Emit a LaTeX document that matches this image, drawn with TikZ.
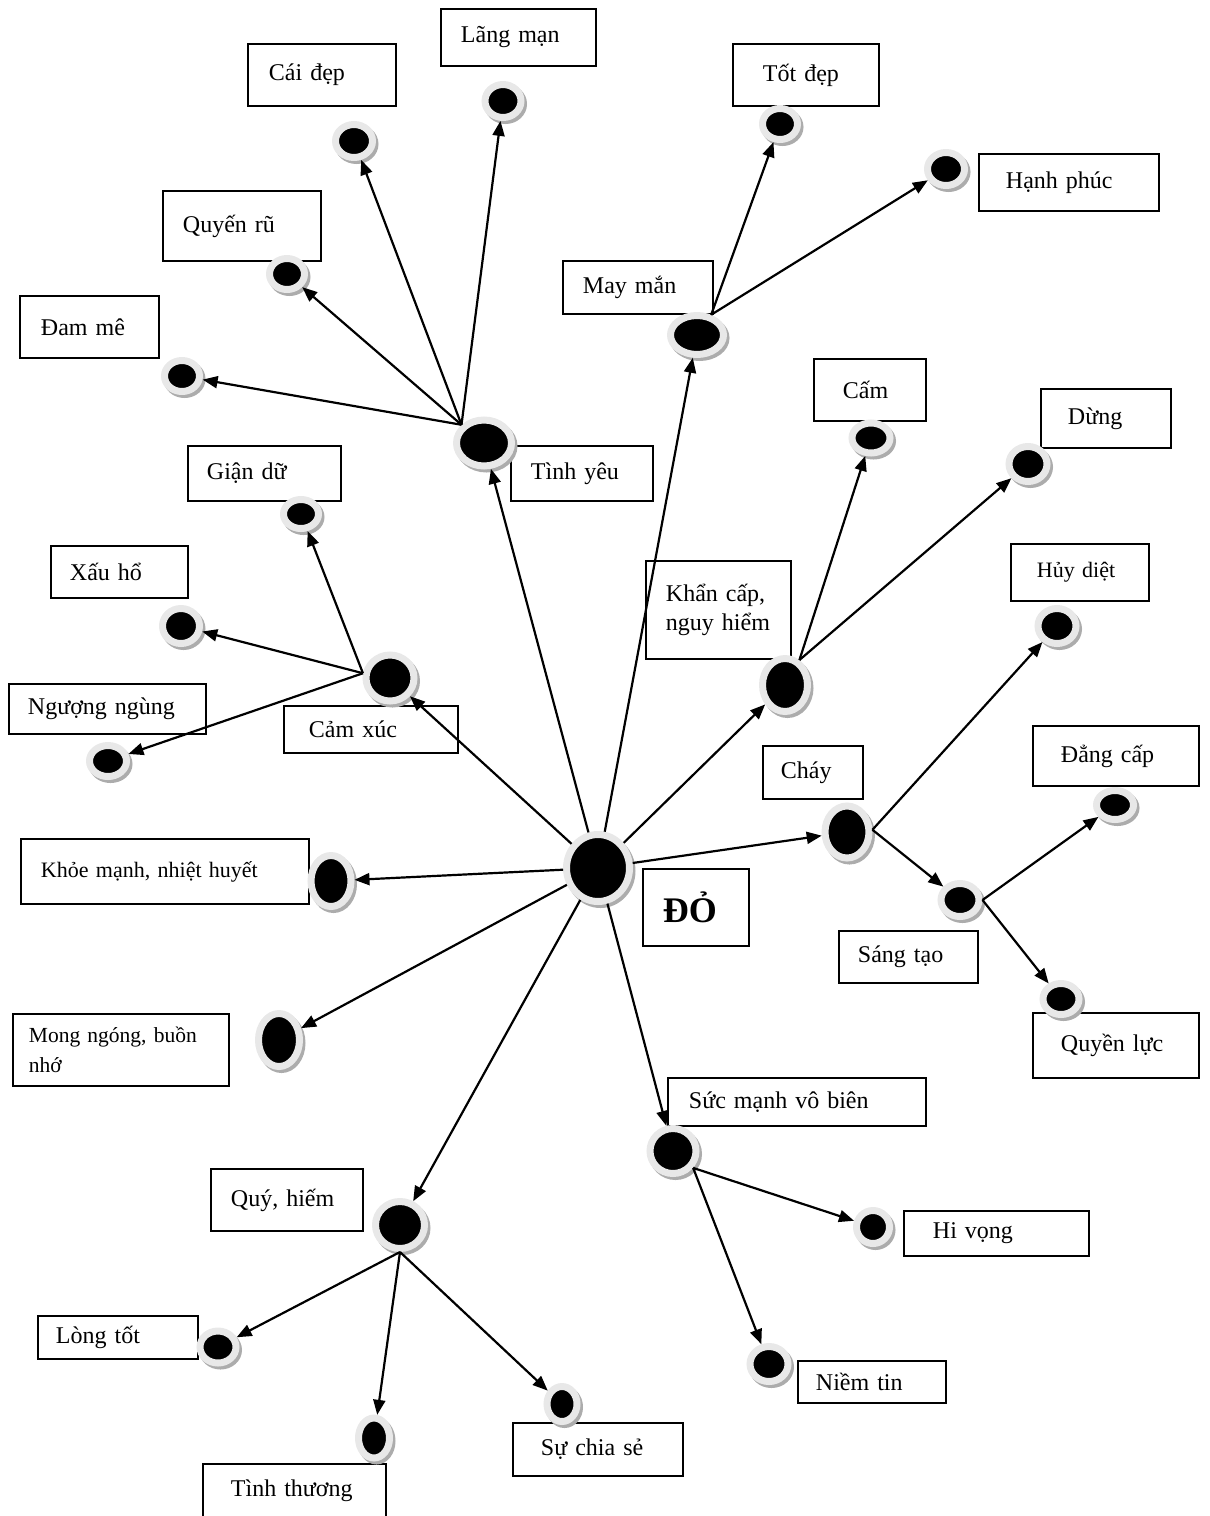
\documentclass[tikz,border=0pt]{standalone}
\usepackage{fontspec}
\setmainfont{Liberation Serif}
\usetikzlibrary{positioning,arrows.meta,shapes.geometric,shadows}

\begin{document}
\begin{tikzpicture}[
      x=1pt, y=-1pt,
      font=\fontsize{24}{29}\selectfont,
      box/.style={
        draw, line width=1.9pt, anchor=north west,
        align=left, inner xsep=20pt, inner ysep=0pt,
      },
      blob/.style 2 args={
        ellipse, fill=black, draw=gray!18, line width=7pt,
        minimum width=#1, minimum height=#2, inner sep=0pt,
        drop shadow={shadow xshift=2.5pt, shadow yshift=-3pt,
          opacity=1, fill=gray!65, draw=gray!65},
      },
      link/.style={-{Triangle[length=15pt,width=12pt]}, line width=2.2pt},
    ]
    \useasboundingbox (0,0) rectangle (1210,1516);

    % Label boxes, top row first
    \node[box, text width=115pt, minimum height=57pt] (lm) at (440,8) {Lãng mạn};
    \node[box, inner xsep=21pt, text width=106pt, minimum height=62pt] (cd) at (247,43) {Cái đẹp};
    \node[box, inner xsep=30pt, text width=86pt, minimum height=62pt] (td) at (732,43) {Tốt đẹp};
    \node[box, inner xsep=27pt, text width=126pt, minimum height=57pt] (hp) at (978,153) {Hạnh phúc};
    \node[box, text width=118pt, minimum height=70pt] (qr) at (162,190) {Quyến rũ};
    \node[box, text width=110pt, minimum height=53pt] (mm) at (562,260) {May mắn};
    \node[box, inner xsep=21pt, text width=97pt, minimum height=62pt] (dm) at (19,295) {Đam mê};
    \node[box, inner xsep=29pt, text width=54pt, minimum height=62pt] (cam) at (813,358) {Cấm};
    \node[box, inner xsep=27pt, text width=76pt, minimum height=59pt] (dung) at (1040,388) {Dừng};
    \node[box, text width=102pt, minimum height=55pt] (ty) at (510,445) {Tình yêu};
    \node[box, inner xsep=19pt, text width=115pt, minimum height=55pt] (gd) at (187,445) {Giận dữ};
    \node[box, inner xsep=19pt, text width=99pt, minimum height=52pt] (xh) at (50,545) {Xấu hổ};
    \node[box, text width=105pt, minimum height=98pt] (kc) at (645,560) {\mbox{Khẩn cấp,}\\\mbox{nguy hiểm}};
    \node[box, inner xsep=26pt, text width=86pt, minimum height=57pt, font=\fontsize{22}{27}\selectfont] (hd) at (1010,543) {\mbox{Hủy diệt}};
    \node[box, inner xsep=19pt, text width=159pt, minimum height=50pt] (nn) at (8,683) {Ngượng ngùng};
    \node[box, inner xsep=25pt, text width=124pt, minimum height=47pt] (cx) at (283,705) {Cảm xúc};
    \node[box, inner xsep=18pt, text width=64pt, minimum height=53pt] (ch) at (762,745) {Cháy};
    \node[box, inner xsep=28pt, text width=110pt, minimum height=60pt] (dc) at (1032,725) {Đẳng cấp};
    \node[box, text width=248pt, minimum height=65pt, font=\fontsize{22}{27}\selectfont] (km) at (20,838) {Khỏe mạnh, nhiệt huyết};
    \node[box, text width=66pt, minimum height=77pt, font=\fontsize{36}{40}\selectfont\bfseries] (do) at (642,868) {ĐỎ};
    \node[box, inner xsep=19pt, text width=101pt, minimum height=52pt] (st) at (838,930) {Sáng tạo};
    \node[box, inner xsep=16pt, text width=184pt, minimum height=72pt, font=\fontsize{21.5}{30}\selectfont] (mg) at (12,1013) {\mbox{Mong ngóng, buồn}\\nhớ};
    \node[box, inner xsep=28pt, text width=110pt, minimum height=65pt] (ql) at (1032,1012) {Quyền lực};
    \node[box, inner xsep=21pt, text width=216pt, minimum height=48pt] (sm) at (667,1077) {Sức mạnh vô biên};
    \node[box, text width=112pt, minimum height=62pt] (qh) at (210,1168) {Quý, hiếm};
    \node[box, inner xsep=29pt, text width=127pt, minimum height=45pt] (hv) at (903,1210) {Hi vọng};
    \node[box, inner xsep=18pt, text width=124pt, minimum height=43pt] (lt) at (37,1315) {Lòng tốt};
    \node[box, inner xsep=18pt, text width=112pt, minimum height=42pt] (nt) at (797,1360) {Niềm tin};
    \node[box, inner xsep=28pt, text width=114pt, minimum height=53pt] (sc) at (512,1422) {Sự chia sẻ};
    \node[box, inner xsep=28pt, text width=127pt, minimum height=53pt] (tt) at (202,1463) {Tình thương};

    % Hub dots
    \node[blob={63}{67}] (ctrDot) at (598,868) {};
    \node[blob={55}{46}] (tyDot) at (484,443) {};
    \node[blob={53}{39}] (mmDot) at (697,335) {};
    \node[blob={48}{46}] (cxDot) at (390,678) {};
    \node[blob={45}{53}] (kcDot) at (785,685) {};
    \node[blob={44}{52}] (chDot) at (847,832) {};
    \node[blob={38}{33}] (stDot) at (960,900) {};
    \node[blob={40}{51}] (kmDot) at (331,881) {};
    \node[blob={41}{53}] (mgDot) at (279,1040) {};
    \node[blob={46}{45}] (smDot) at (673,1151) {};
    \node[blob={49}{47}] (qhDot) at (400,1225) {};

    % Leaf dots
    \node[blob={36}{33}] (lmDot) at (503,101) {};
    \node[blob={37}{33}] (cdDot) at (354,141) {};
    \node[blob={35}{31}] (qrDot) at (287,274) {};
    \node[blob={35}{31}] (dmDot) at (182,376) {};
    \node[blob={35}{31}] (tdDot) at (780,124) {};
    \node[blob={37}{33}] (hpDot) at (946,169) {};
    \node[blob={38}{30}] (camDot) at (871,438) {};
    \node[blob={38}{35}] (dungDot) at (1028,464) {};
    \node[blob={35}{29}] (gdDot) at (301,514) {};
    \node[blob={37}{35}] (xhDot) at (181,626) {};
    \node[blob={37}{31}] (nnDot) at (108,761) {};
    \node[blob={38}{35}] (hdDot) at (1057,626) {};
    \node[blob={37}{29}] (dcDot) at (1115,805) {};
    \node[blob={36}{31}] (qlDot) at (1061,999) {};
    \node[blob={33}{33}] (hvDot) at (873,1227) {};
    \node[blob={38}{35}] (ntDot) at (769,1364) {};
    \node[blob={36}{32}] (ltDot) at (218,1347) {};
    \node[blob={31}{40}] (ttDot) at (374,1438) {};
    \node[blob={30}{35}] (scDot) at (562,1404) {};

    % From the centre
    \draw[link] (ctrDot) -- (tyDot);
    \draw[link] (ctrDot) -- (mmDot);
    \draw[link] (ctrDot) -- (cxDot);
    \draw[link] (ctrDot) -- (kcDot);
    \draw[link] (ctrDot) -- (chDot);
    \draw[link] (ctrDot) -- (kmDot);
    \draw[link] (ctrDot) -- (mgDot);
    \draw[link] (ctrDot) -- (qhDot);
    \draw[link] (ctrDot) -- (smDot);

    % Tình yêu branch
    \draw[link] (tyDot.141) -- (cdDot);
    \draw[link] (tyDot.141) -- (lmDot);
    \draw[link] (tyDot.141) -- (qrDot);
    \draw[link] (tyDot.141) -- (dmDot);

    % May mắn branch
    \draw[link] (mmDot.55) -- (tdDot);
    \draw[link] (mmDot.55) -- (hpDot);

    % Cảm xúc branch
    \draw[link] (cxDot.170) -- (gdDot);
    \draw[link] (cxDot.170) -- (xhDot);
    \draw[link] (cxDot.170) -- (nnDot);

    % Khẩn cấp branch
    \draw[link] (kcDot.60) -- (camDot);
    \draw[link] (kcDot.60) -- (dungDot);

    % Cháy branch, then Sáng tạo
    \draw[link] (chDot.5) -- (hdDot);
    \draw[link] (chDot.5) -- (stDot);
    \draw[link] (stDot.east) -- (dcDot);
    \draw[link] (stDot.east) -- (qlDot);

    % Sức mạnh branch
    \draw[link] (smDot.-40) -- (hvDot);
    \draw[link] (smDot.-40) -- (ntDot);

    % Quý, hiếm branch
    \draw[link] (qhDot.south) -- (ltDot);
    \draw[link] (qhDot.south) -- (ttDot);
    \draw[link] (qhDot.south) -- (scDot);

  \end{tikzpicture}
\end{document}
